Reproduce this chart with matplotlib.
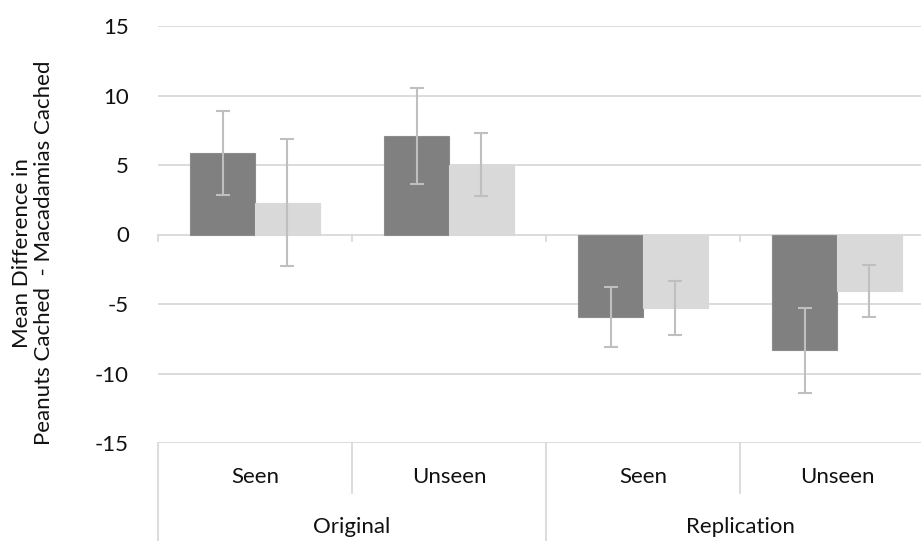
import matplotlib
matplotlib.use("Agg")
import matplotlib.pyplot as plt
import numpy as np

groups = ["Original", "Replication"]
conditions = ["Seen", "Unseen", "Seen", "Unseen"]
dark_vals = [5.85, 7.1, -5.95, -8.33]
dark_err = [3.0, 3.45, 2.15, 3.07]
light_vals = [2.3, 5.02, -5.3, -4.07]
light_err = [4.6, 2.25, 1.93, 1.9]
yticks = [-15, -10, -5, 0, 5, 10, 15]

plt.rcParams['font.family'] = ['Lato', 'DejaVu Sans']
W, H = 921, 541
fig = plt.figure(figsize=(W / 100, H / 100), dpi=100)
ax = fig.add_axes([158 / W, 98 / H, 776 / W, 417 / H])

x = np.arange(len(conditions))
bw = 1 / 3
grid_c = '#d9d9d9'
err_c = '#bfbfbf'
txt_c = '#111111'
fs = 16
ax.bar(x - bw / 2, dark_vals, bw, color='#808080', edgecolor='#8c8c8c', linewidth=0.8, zorder=3)
ax.bar(x + bw / 2, light_vals, bw, color='#d9d9d9', edgecolor='#d9d9d9', linewidth=0.8, zorder=3)
ax.errorbar(x - bw / 2, dark_vals, yerr=dark_err, fmt='none', ecolor=err_c, elinewidth=1.5, capsize=5, capthick=1.5, zorder=4)
ax.errorbar(x + bw / 2, light_vals, yerr=light_err, fmt='none', ecolor=err_c, elinewidth=1.5, capsize=5, capthick=1.5, zorder=4)

ax.set_xlim(-0.5, 3.5)
ax.set_ylim(-15, 15)
ax.set_yticks(yticks)
ax.set_yticklabels([str(v) for v in yticks], fontsize=fs, color=txt_c)
ax.tick_params(axis='y', length=0, pad=21)
ax.set_xticks([])
for s in ax.spines.values():
    s.set_visible(False)
for v in yticks:
    ax.axhline(v, color=grid_c, lw=1.3, zorder=1)

# zero-line tick marks at category boundaries
for b in np.arange(-0.5, 4.0, 1.0):
    ax.plot([b, b], [0, -0.45], color=grid_c, lw=1.3, zorder=2, clip_on=False)

tr = ax.get_xaxis_transform()
# multi-level category axis
for i, c in enumerate(conditions):
    ax.text(x[i], -0.0815, c, transform=tr, ha='center', va='center', fontsize=fs, color=txt_c)
for gi, g in enumerate(groups):
    ax.text(gi * 2 + 0.5, -0.2014, g, transform=tr, ha='center', va='center', fontsize=fs, color=txt_c)
for b in [0.5, 2.5]:
    ax.plot([b, b], [0, -0.12], transform=tr, color=grid_c, lw=1.3, clip_on=False)
for b in [-0.5, 1.5, 3.5]:
    ax.plot([b, b], [0, -0.25], transform=tr, color=grid_c, lw=1.3, clip_on=False)

fig.text(33 / W, 1 - 253 / H, "Mean Difference in\nPeanuts Cached  - Macadamias Cached",
         rotation=90, ha='center', va='center', fontsize=fs, color=txt_c, linespacing=1.15)

fig.savefig("out.png", dpi=100)
